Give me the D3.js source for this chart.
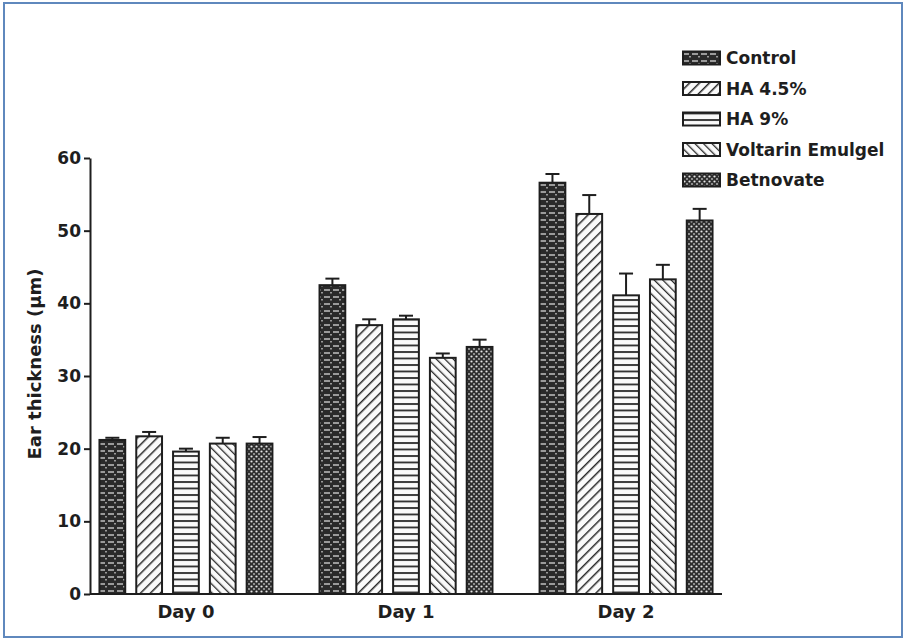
<!DOCTYPE html>
<html>
<head>
<meta charset="utf-8">
<script src="https://cdn.jsdelivr.net/npm/d3@7"></script>
<style>
  html, body { margin: 0; padding: 0; background: #fff; }
  svg { display: block; }
  text { font-family: "DejaVu Sans", "Liberation Sans", Arial, sans-serif; font-weight: bold; fill: #1e1e1e; }
</style>
</head>
<body>
<svg id="chart" width="905" height="640"></svg>
<script>
const days = ["Day 0", "Day 1", "Day 2"];
const series = ["Control", "HA 4.5%", "HA 9%", "Voltarin Emulgel", "Betnovate"];
// mean values per series, one per day
const control   = [21.2, 42.5, 56.6];
const ha45      = [21.7, 37.0, 52.3];
const ha9       = [19.6, 37.8, 41.1];
const voltarin  = [20.7, 32.5, 43.3];
const betnovate = [20.7, 34.0, 51.4];
// error (upper) per series
const controlErr   = [0.3, 0.9, 1.2];
const ha45Err      = [0.6, 0.8, 2.6];
const ha9Err       = [0.4, 0.5, 3.0];
const voltarinErr  = [0.8, 0.6, 2.0];
const betnovateErr = [0.9, 1.0, 1.6];
const yTicks = [0, 10, 20, 30, 40, 50, 60];

const values = [control, ha45, ha9, voltarin, betnovate];
const errors = [controlErr, ha45Err, ha9Err, voltarinErr, betnovateErr];
const patIds = ["pCtrl", "pHA45", "pHA9", "pVolt", "pBetn"];
const FONT = "DejaVu Sans, Liberation Sans, Arial, sans-serif";

const svg = d3.select("#chart");

// page frame
svg.append("rect").attr("x", 4).attr("y", 3).attr("width", 898).attr("height", 634)
  .attr("fill", "#fff").attr("stroke", "#5f88bd").attr("stroke-width", 2);

// patterns
const defs = svg.append("defs");
{
  const p = defs.append("pattern").attr("id", "pCtrl").attr("patternUnits", "userSpaceOnUse").attr("width", 9).attr("height", 7);
  p.append("rect").attr("width", 9).attr("height", 7).attr("fill", "#2a2a2a");
  p.append("line").attr("x1", 0).attr("y1", 3).attr("x2", 6).attr("y2", 3).attr("stroke", "#d8d8d8").attr("stroke-width", 1.3);
  p.append("rect").attr("x", 6).attr("y", 5).attr("width", 2).attr("height", 1.5).attr("fill", "#9a9a9a");
}
{
  const p = defs.append("pattern").attr("id", "pHA45").attr("patternUnits", "userSpaceOnUse").attr("width", 7).attr("height", 7)
    .attr("patternTransform", "rotate(45)");
  p.append("rect").attr("width", 7).attr("height", 7).attr("fill", "#fafafa");
  p.append("line").attr("x1", 0).attr("y1", 0).attr("x2", 0).attr("y2", 7).attr("stroke", "#2a2a2a").attr("stroke-width", 3);
}
{
  const p = defs.append("pattern").attr("id", "pHA9").attr("patternUnits", "userSpaceOnUse").attr("width", 8).attr("height", 6.5);
  p.append("rect").attr("width", 8).attr("height", 6.5).attr("fill", "#fafafa");
  p.append("line").attr("x1", 0).attr("y1", 1).attr("x2", 8).attr("y2", 1).attr("stroke", "#2a2a2a").attr("stroke-width", 1.8);
}
{
  const p = defs.append("pattern").attr("id", "pVolt").attr("patternUnits", "userSpaceOnUse").attr("width", 6).attr("height", 6)
    .attr("patternTransform", "rotate(-45)");
  p.append("rect").attr("width", 6).attr("height", 6).attr("fill", "#fafafa");
  p.append("line").attr("x1", 0).attr("y1", 0).attr("x2", 0).attr("y2", 6).attr("stroke", "#2a2a2a").attr("stroke-width", 2.6);
}
{
  const p = defs.append("pattern").attr("id", "pBetn").attr("patternUnits", "userSpaceOnUse").attr("width", 5).attr("height", 5);
  p.append("rect").attr("width", 5).attr("height", 5).attr("fill", "#2e2e2e");
  p.append("circle").attr("cx", 1.5).attr("cy", 1.5).attr("r", 1.1).attr("fill", "#e6e6e6");
  p.append("circle").attr("cx", 4).attr("cy", 4).attr("r", 0.9).attr("fill", "#bdbdbd");
}

// scales
const x0 = d3.scalePoint().domain(days).range([90, 722]).padding(0.436);
const x1 = d3.scaleBand().domain(series).range([-92, 92]).paddingInner(0.3).paddingOuter(0.15);
const y = d3.scaleLinear().domain([0, 60]).range([594, 158]);

// axes
const yAxis = d3.axisLeft(y).tickValues(yTicks).tickSize(6).tickSizeOuter(0).tickPadding(3);
const gy = svg.append("g").attr("transform", "translate(90,0)").call(yAxis);
gy.select(".domain").attr("stroke", "#1e1e1e").attr("stroke-width", 2);
gy.selectAll(".tick line").attr("stroke", "#1e1e1e").attr("stroke-width", 2);
gy.selectAll(".tick text").attr("font-size", 17).attr("font-family", FONT)
  .attr("font-weight", "bold").attr("fill", "#1e1e1e");

// x baseline
svg.append("line").attr("x1", 90).attr("x2", 722).attr("y1", y(0)).attr("y2", y(0))
  .attr("stroke", "#1e1e1e").attr("stroke-width", 2);

// x labels
svg.selectAll(".xlab").data(days).join("text").attr("class", "xlab")
  .attr("x", d => x0(d)).attr("y", 618).attr("text-anchor", "middle").attr("font-size", 18).text(d => d);

// y title
svg.append("text").attr("transform", "translate(41,364) rotate(-90)").attr("text-anchor", "middle")
  .attr("font-size", 18).text("Ear thickness (µm)");

// bars
const bars = [];
series.forEach((s, si) => days.forEach((d, di) => bars.push({ s, si, d, v: values[si][di], e: errors[si][di] })));

const g = svg.append("g");
g.selectAll("rect.bar").data(bars).join("rect").attr("class", "bar")
  .attr("x", b => x0(b.d) + x1(b.s)).attr("width", x1.bandwidth())
  .attr("y", b => y(b.v)).attr("height", b => y(0) - y(b.v))
  .attr("fill", b => `url(#${patIds[b.si]})`).attr("stroke", "#1e1e1e").attr("stroke-width", 2);

// error bars (upper)
g.selectAll("line.err").data(bars).join("line").attr("class", "err")
  .attr("x1", b => x0(b.d) + x1(b.s) + x1.bandwidth() / 2).attr("x2", b => x0(b.d) + x1(b.s) + x1.bandwidth() / 2)
  .attr("y1", b => y(b.v)).attr("y2", b => y(b.v + b.e)).attr("stroke", "#1e1e1e").attr("stroke-width", 2);
g.selectAll("line.cap").data(bars).join("line").attr("class", "cap")
  .attr("x1", b => x0(b.d) + x1(b.s) + x1.bandwidth() / 2 - 7).attr("x2", b => x0(b.d) + x1(b.s) + x1.bandwidth() / 2 + 7)
  .attr("y1", b => y(b.v + b.e)).attr("y2", b => y(b.v + b.e)).attr("stroke", "#1e1e1e").attr("stroke-width", 2);

// legend
const leg = svg.append("g").attr("transform", "translate(683,58)");
const li = leg.selectAll("g").data(series).join("g").attr("transform", (d, i) => `translate(0,${i * 30.5})`);
li.append("rect").attr("x", 0).attr("y", -6.5).attr("width", 37).attr("height", 13)
  .attr("fill", (d, i) => `url(#${patIds[i]})`).attr("stroke", "#1e1e1e").attr("stroke-width", 2);
li.append("text").attr("x", 43).attr("y", 6).attr("font-size", 17).text(d => d);
</script>
</body>
</html>
